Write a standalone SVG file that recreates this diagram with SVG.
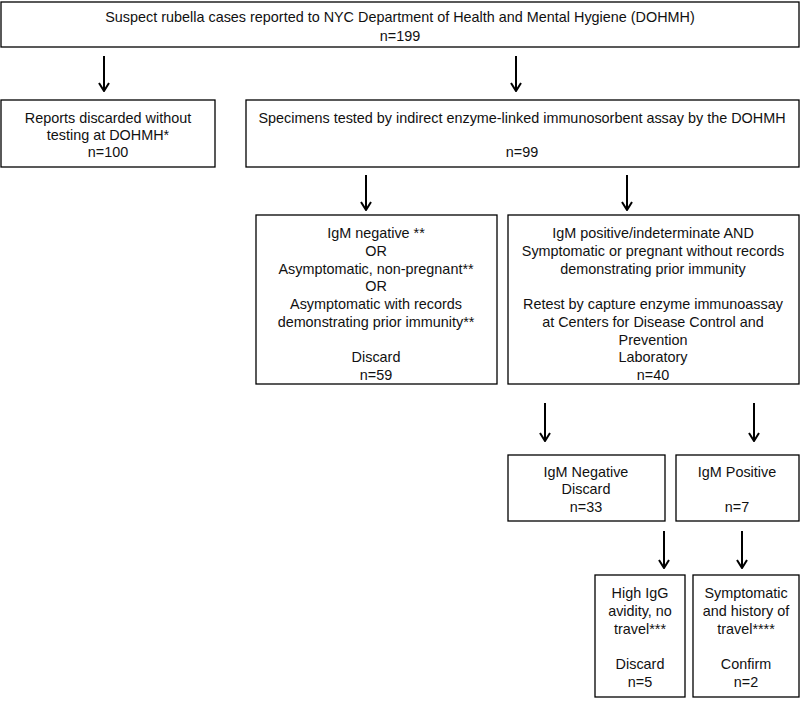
<svg xmlns="http://www.w3.org/2000/svg" width="800" height="701" viewBox="0 0 800 701">
<style>
.box{fill:#fff;stroke:#000;stroke-width:1.3}
text{font-family:"Liberation Sans",Arial,sans-serif;font-size:14.4px;fill:#111;text-anchor:middle}
.conn line{stroke:#000;stroke-width:2}
</style>
<defs>
<marker id="ah" viewBox="0 0 10 12" refX="9" refY="6" markerWidth="10" markerHeight="12" markerUnits="userSpaceOnUse" orient="auto">
<path d="M1,1 L9,6 L1,11" fill="none" stroke="#000" stroke-width="2"/>
</marker>
</defs>
<rect width="800" height="701" fill="#fff"/>
<g id="connectors" class="conn">
<line x1="104" y1="56" x2="104" y2="91" marker-end="url(#ah)"/>
<line x1="516" y1="56" x2="516" y2="91" marker-end="url(#ah)"/>
<line x1="366" y1="175" x2="366" y2="210" marker-end="url(#ah)"/>
<line x1="627" y1="175" x2="627" y2="210" marker-end="url(#ah)"/>
<line x1="545" y1="403" x2="545" y2="441" marker-end="url(#ah)"/>
<line x1="754" y1="403" x2="754" y2="441" marker-end="url(#ah)"/>
<line x1="664" y1="531" x2="664" y2="568" marker-end="url(#ah)"/>
<line x1="742" y1="531" x2="742" y2="568" marker-end="url(#ah)"/>
</g>
<g id="n-suspect">
<rect class="box" x="1" y="2" width="798" height="45"/>
<text x="400" y="22">Suspect rubella cases reported to NYC Department of Health and Mental Hygiene (DOHMH)</text>
<text x="400" y="41">n=199</text>
</g>
<g id="n-reports">
<rect class="box" x="1" y="100" width="214" height="67"/>
<text x="108" y="123">Reports discarded without</text>
<text x="108" y="140">testing at DOHMH*</text>
<text x="108" y="157">n=100</text>
</g>
<g id="n-specimens">
<rect class="box" x="246" y="100" width="553" height="67"/>
<text x="522" y="123">Specimens tested by indirect enzyme-linked immunosorbent assay by the DOHMH</text>
<text x="522" y="157">n=99</text>
</g>
<g id="n-igmneg">
<rect class="box" x="256" y="215" width="241" height="169"/>
<text x="376" y="238">IgM negative **</text>
<text x="376" y="256">OR</text>
<text x="376" y="274">Asymptomatic, non-pregnant**</text>
<text x="376" y="291">OR</text>
<text x="376" y="309">Asymptomatic with records</text>
<text x="376" y="327">demonstrating prior immunity**</text>
<text x="376" y="362">Discard</text>
<text x="376" y="380">n=59</text>
</g>
<g id="n-igmpos">
<rect class="box" x="508" y="215" width="291" height="169"/>
<text x="653" y="238">IgM positive/indeterminate AND</text>
<text x="653" y="256">Symptomatic or pregnant without records</text>
<text x="653" y="274">demonstrating prior immunity</text>
<text x="653" y="309">Retest by capture enzyme immunoassay</text>
<text x="653" y="327">at Centers for Disease Control and</text>
<text x="653" y="345">Prevention</text>
<text x="653" y="362">Laboratory</text>
<text x="653" y="380">n=40</text>
</g>
<g id="n-cdcneg">
<rect class="box" x="508" y="455" width="157" height="66"/>
<text x="586" y="477">IgM Negative</text>
<text x="586" y="494">Discard</text>
<text x="586" y="512">n=33</text>
</g>
<g id="n-cdcpos">
<rect class="box" x="676" y="455" width="123" height="66"/>
<text x="737" y="477">IgM Positive</text>
<text x="737" y="512">n=7</text>
</g>
<g id="n-avidity">
<rect class="box" x="595" y="575" width="90" height="122"/>
<text x="640" y="598">High IgG</text>
<text x="640" y="616">avidity, no</text>
<text x="640" y="634">travel***</text>
<text x="640" y="669">Discard</text>
<text x="640" y="687">n=5</text>
</g>
<g id="n-travel">
<rect class="box" x="693" y="575" width="106" height="122"/>
<text x="746" y="598">Symptomatic</text>
<text x="746" y="616">and history of</text>
<text x="746" y="634">travel****</text>
<text x="746" y="669">Confirm</text>
<text x="746" y="687">n=2</text>
</g>
</svg>
